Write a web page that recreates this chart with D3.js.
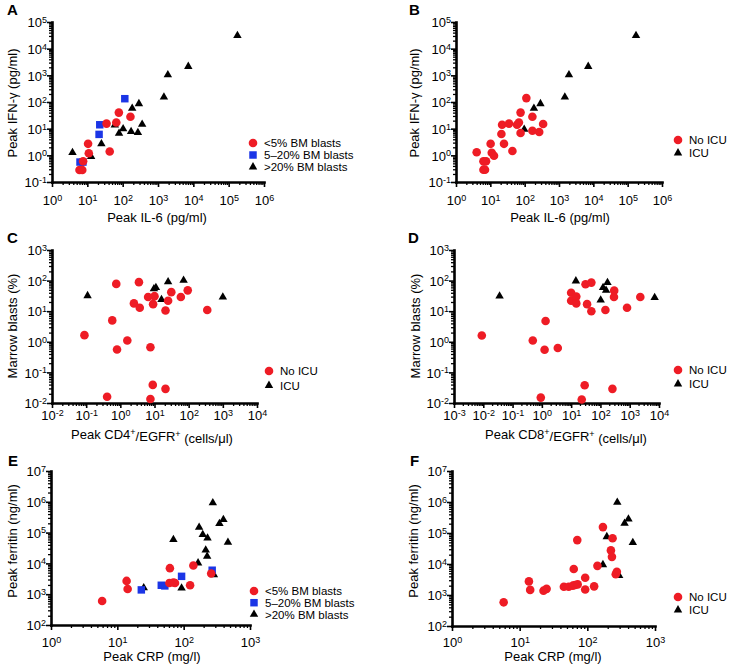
<!DOCTYPE html>
<html><head><meta charset="utf-8">
<script src="https://cdn.jsdelivr.net/npm/d3@7"></script>
<style>body{margin:0;background:#fff} svg{display:block;font-family:"Liberation Sans",Arial,sans-serif}</style>
</head><body><svg id="c" width="730" height="670"></svg>
<script>
// ---------- DATA ----------
// Panel A: Peak IL-6 (x) vs Peak IFN-γ (y), by BM blasts group
const aLowIL6  = [6.0, 7.2, 7.6, 10.5, 11, 35, 43, 66, 78, 166];
const aLowIFNG = [0.28, 0.28, 0.6, 2.7, 1.2, 15.5, 1.4, 17, 40, 28];
const aMidIL6  = [6.2, 7.5, 21.5, 22.5, 115];
const aMidIFNG = [0.56, 0.56, 6.1, 14, 133];
const aHighIL6  = [3.8, 12.8, 25, 60, 79, 103, 173, 186, 270, 288, 356, 1470, 1900, 7200, 177000];
const aHighIFNG = [1.26, 0.9, 2.7, 13.8, 6.7, 9.8, 7.8, 58, 7.1, 86, 14.5, 152, 1050, 2150, 31000];
// Panel B: same axes, by ICU
const bNoIL6  = [4.0, 6.3, 7.5, 6.3, 7.0, 10.2, 11, 12.8, 22, 21, 25, 35, 44, 60, 68, 76, 76, 112, 168, 168, 265, 345];
const bNoIFNG = [1.3, 0.6, 0.6, 0.29, 0.29, 2.7, 1.25, 0.97, 14, 6.3, 2.7, 15.5, 1.45, 14, 17, 40, 6.9, 140, 28, 8.3, 7.5, 15];
const bIcuIL6  = [97, 186, 288, 1480, 1950, 7100, 175000];
const bIcuIFNG = [9.5, 58, 86, 152, 1040, 2150, 31000];
// Panel C: Peak CD4+/EGFR+ (x) vs Marrow blasts % (y)
const cNoCD4   = [0.089, 0.76, 0.58, 0.8, 0.41, 1.6, 2.5, 3.5, 3.7, 6.5, 7.6, 7.6, 8.9, 9.1, 10, 21, 21, 25, 31, 59, 94, 350];
const cNoBlast = [1.65, 78, 5, 0.56, 0.016, 1.1, 18, 89, 13, 29, 0.66, 0.0135, 0.039, 17, 31, 10.5, 0.029, 22, 42, 29, 48, 11];
const cIcuCD4   = [0.11, 9.6, 11, 16, 25, 71, 1000];
const cIcuBlast = [32, 54, 59, 24, 91, 102, 29];
// Panel D: Peak CD8+/EGFR+ (x) vs Marrow blasts % (y)
const dNoCD8   = [0.0089, 0.49, 1.24, 1.34, 3.5, 0.92, 10, 10, 15, 15, 31, 49, 35, 49, 148, 295, 290, 810, 2300, 29, 23, 257];
const dNoBlast = [1.6, 1.1, 0.55, 4.8, 0.63, 0.015, 40, 22, 30, 18, 76, 86, 17, 10, 11, 47, 29, 13, 29, 0.038, 0.013, 0.029];
const dIcuCD8   = [0.036, 14.5, 102, 123, 156, 174, 7100];
const dIcuBlast = [31, 97, 23, 59, 48, 86, 28];
// Panel E: Peak CRP (x) vs Peak ferritin (y), by BM blasts group
const eLowCRP = [5.9, 13.8, 14.3, 62, 61, 70, 74, 125, 140, 260];
const eLowFer = [600, 2700, 1480, 7000, 2300, 2400, 2300, 1950, 8500, 4700];
const eMidCRP = [23, 46, 52, 93, 269];
const eMidFer = [1380, 1950, 1860, 3800, 6000];
const eHighCRP = [25, 70, 93, 165, 171, 194, 215, 229, 226, 275, 285, 346, 397, 465];
const eHighFer = [1600, 59000, 1580, 10300, 149000, 86000, 27000, 66000, 17000, 930000, 4300, 195000, 265000, 48000];
// Panel F: Peak CRP (x) vs Peak ferritin (y), by ICU
const fNoCRP = [5.8, 13.7, 14.3, 22.5, 25, 45, 53, 61, 63, 66, 71, 72, 93, 93, 126, 141, 170, 223, 231, 236, 263, 273];
const fNoFer = [580, 2750, 1460, 1380, 1580, 1850, 1850, 2000, 6900, 2100, 59000, 2200, 3600, 1500, 1900, 8700, 155000, 27500, 17000, 68000, 4700, 5600];
const fIcuCRP = [170, 194, 277, 295, 355, 405, 470];
const fIcuFer = [9500, 76000, 980000, 4200, 205000, 280000, 49000];

// Legend labels
const blastLabels = ["<5% BM blasts", "5\u201320% BM blasts", ">20% BM blasts"];
const icuLabels = ["No ICU", "ICU"];

// ---------- STYLE ----------
const RED = "#ee1c25", BLUE = "#1b35e6", BLACK = "#000";
const MARK = {
  circle:   {type: d3.symbolCircle,   size: 58},
  square:   {type: d3.symbolSquare,   size: 56},
  triangle: {type: d3.symbolTriangle, size: 31}
};

const svg = d3.select("#c");

function zip(xs, ys){ return xs.map((v,i)=>[v, ys[i]]); }
function majorTicks(dom){
  const lo = Math.round(Math.log10(dom[0])), hi = Math.round(Math.log10(dom[1]));
  return d3.range(lo, hi+1).map(e => Math.pow(10, e));
}
function minorTicks(dom){
  const lo = Math.round(Math.log10(dom[0])), hi = Math.round(Math.log10(dom[1]));
  const out = [];
  for (let e = lo; e < hi; e++) for (let k = 2; k <= 9; k++) out.push(k*Math.pow(10, e));
  return out;
}
function expLabel(sel){
  sel.each(function(d){
    const t = d3.select(this);
    const e = Math.round(Math.log10(d));
    t.text(null);
    t.append("tspan").text("10");
    t.append("tspan").attr("dy", "-0.48em").attr("font-size", "9px").text(e < 0 ? "-" + (-e) : String(e));
  });
}

function drawPanel(cfg){
  const x = d3.scaleLog().domain(cfg.xd).range([cfg.x0, cfg.x1]);
  const y = d3.scaleLog().domain(cfg.yd).range([cfg.y0, cfg.y1]);
  const g = svg.append("g");

  // minor ticks
  g.append("g").attr("transform", `translate(0,${cfg.y0})`)
    .call(d3.axisBottom(x).tickValues(minorTicks(cfg.xd)).tickSize(3).tickSizeOuter(0).tickFormat(""))
    .call(s => { s.select(".domain").remove(); s.selectAll("line").attr("stroke-width", 1.3); });
  g.append("g").attr("transform", `translate(${cfg.x0},0)`)
    .call(d3.axisLeft(y).tickValues(minorTicks(cfg.yd)).tickSize(3).tickSizeOuter(0).tickFormat(""))
    .call(s => { s.select(".domain").remove(); s.selectAll("line").attr("stroke-width", 1.3); });

  // major x
  const gx = g.append("g").attr("transform", `translate(0,${cfg.y0})`)
    .call(d3.axisBottom(x).tickValues(majorTicks(cfg.xd)).tickSize(5).tickSizeOuter(0));
  gx.attr("font-family", null).attr("font-size", 13);
  gx.select(".domain").attr("stroke-width", 2.6).attr("stroke-linecap", "square");
  gx.selectAll(".tick line").attr("stroke-width", 1.6);
  gx.selectAll(".tick text").attr("y", cfg.xlab).attr("dy", 0).attr("fill", "#000").call(expLabel);

  // major y
  const gy = g.append("g").attr("transform", `translate(${cfg.x0},0)`)
    .call(d3.axisLeft(y).tickValues(majorTicks(cfg.yd)).tickSize(5).tickSizeOuter(0));
  gy.attr("font-family", null).attr("font-size", 13);
  gy.select(".domain").attr("stroke-width", 2.6).attr("stroke-linecap", "square");
  gy.selectAll(".tick line").attr("stroke-width", 1.6);
  gy.selectAll(".tick text").attr("x", -5).attr("dy", "0.36em").attr("fill", "#000").call(expLabel);

  // points
  cfg.series.forEach(s => {
    g.append("g").selectAll("path").data(zip(s.xs, s.ys)).join("path")
      .attr("transform", d => `translate(${x(d[0])},${y(d[1])})`)
      .attr("d", d3.symbol().type(MARK[s.shape].type).size(MARK[s.shape].size))
      .attr("fill", s.color);
  });

  // panel letter
  svg.append("text").attr("x", cfg.lx).attr("y", cfg.ly).attr("font-size", 15).attr("font-weight", "bold").text(cfg.letter);

  // axis titles
  const yt = svg.append("text").attr("transform", `translate(${cfg.ytx},${cfg.yty}) rotate(-90)`)
    .attr("text-anchor", "middle").attr("font-size", 13);
  cfg.ytitle.forEach(p => { const ts = yt.append("tspan").text(p[0]); if (p[1]) ts.attr("font-size", 9).attr("dy", "-0.5em"); else if (p[2]) ts.attr("dy", p[2]); });
  const xt = svg.append("text").attr("x", cfg.xtx).attr("y", cfg.xty)
    .attr("text-anchor", "middle").attr("font-size", 13);
  cfg.xtitle.forEach(p => { const ts = xt.append("tspan").text(p[0]); if (p[1]) ts.attr("font-size", 9).attr("dy", "-0.5em"); else if (p[2]) ts.attr("dy", p[2]); });

  // legend
  const legendOrder = cfg.legendOrder || cfg.series;
  legendOrder.forEach((s, i) => {
    const ly = cfg.legY + i * cfg.legDy;
    svg.append("path").attr("transform", `translate(${cfg.legX},${ly})`)
      .attr("d", d3.symbol().type(MARK[s.shape].type).size(MARK[s.shape].size))
      .attr("fill", s.color);
    svg.append("text").attr("x", cfg.legX + 11).attr("y", ly).attr("dy", "0.36em")
      .attr("font-size", 11.5).text(s.label);
  });
}

const sBlastA = [
  {xs: aHighIL6, ys: aHighIFNG, shape: "triangle", color: BLACK, label: blastLabels[2]},
  {xs: aMidIL6, ys: aMidIFNG, shape: "square", color: BLUE, label: blastLabels[1]},
  {xs: aLowIL6, ys: aLowIFNG, shape: "circle", color: RED, label: blastLabels[0]}
];
const sBlastE = [
  {xs: eHighCRP, ys: eHighFer, shape: "triangle", color: BLACK, label: blastLabels[2]},
  {xs: eMidCRP, ys: eMidFer, shape: "square", color: BLUE, label: blastLabels[1]},
  {xs: eLowCRP, ys: eLowFer, shape: "circle", color: RED, label: blastLabels[0]}
];
const il6Title = [["Peak IL-6 (pg/ml)"]];
const ifnTitle = [["Peak IFN-\u03b3 (pg/ml)"]];
const blastTitle = [["Marrow blasts (%)"]];
const crpTitle = [["Peak CRP (mg/l)"]];
const ferTitle = [["Peak ferritin (ng/ml)"]];

drawPanel({letter: "A", lx: 7, ly: 15, xd: [1, 1e6], yd: [0.1, 1e5], x0: 52, x1: 264, y0: 182, y1: 22, xlab: 23,
  series: sBlastA, legendOrder: sBlastA.slice().reverse(), legX: 253, legY: 143, legDy: 12,
  xtitle: il6Title, xtx: 157, xty: 222, ytitle: ifnTitle, ytx: 17, yty: 103});

drawPanel({letter: "B", lx: 409, ly: 15, xd: [1, 1e6], yd: [0.1, 1e5], x0: 456, x1: 662, y0: 182, y1: 22, xlab: 23,
  series: [
    {xs: bIcuIL6, ys: bIcuIFNG, shape: "triangle", color: BLACK, label: icuLabels[1]},
    {xs: bNoIL6, ys: bNoIFNG, shape: "circle", color: RED, label: icuLabels[0]}
  ],
  legendOrder: [{shape: "circle", color: RED, label: icuLabels[0]}, {shape: "triangle", color: BLACK, label: icuLabels[1]}],
  legX: 678, legY: 140, legDy: 13,
  xtitle: il6Title, xtx: 560, xty: 222, ytitle: ifnTitle, ytx: 419, yty: 103});

drawPanel({letter: "C", lx: 7, ly: 243, xd: [1e-2, 1e4], yd: [1e-2, 1e3], x0: 52, x1: 257, y0: 403, y1: 250, xlab: 17,
  series: [
    {xs: cIcuCD4, ys: cIcuBlast, shape: "triangle", color: BLACK, label: icuLabels[1]},
    {xs: cNoCD4, ys: cNoBlast, shape: "circle", color: RED, label: icuLabels[0]}
  ],
  legendOrder: [{shape: "circle", color: RED, label: icuLabels[0]}, {shape: "triangle", color: BLACK, label: icuLabels[1]}],
  legX: 269, legY: 371, legDy: 14.5,
  xtitle: [["Peak CD4"], ["+", true], ["/EGFR", false, "0.5em"], ["+", true], [" (cells/\u03bcl)", false, "0.5em"]],
  xtx: 152, xty: 439, ytitle: blastTitle, ytx: 17, yty: 326});

drawPanel({letter: "D", lx: 408, ly: 243, xd: [1e-3, 1e4], yd: [1e-2, 1e3], x0: 454, x1: 659, y0: 403, y1: 250, xlab: 17,
  series: [
    {xs: dIcuCD8, ys: dIcuBlast, shape: "triangle", color: BLACK, label: icuLabels[1]},
    {xs: dNoCD8, ys: dNoBlast, shape: "circle", color: RED, label: icuLabels[0]}
  ],
  legendOrder: [{shape: "circle", color: RED, label: icuLabels[0]}, {shape: "triangle", color: BLACK, label: icuLabels[1]}],
  legX: 678, legY: 370, legDy: 14,
  xtitle: [["Peak CD8"], ["+", true], ["/EGFR", false, "0.5em"], ["+", true], [" (cells/\u03bcl)", false, "0.5em"]],
  xtx: 566, xty: 439, ytitle: blastTitle, ytx: 420, yty: 326});

drawPanel({letter: "E", lx: 8, ly: 466, xd: [1, 1e3], yd: [1e2, 1e7], x0: 51, x1: 250, y0: 625, y1: 471, xlab: 22,
  series: sBlastE, legendOrder: sBlastE.slice().reverse(), legX: 254, legY: 591, legDy: 11.7,
  xtitle: crpTitle, xtx: 152, xty: 661, ytitle: ferTitle, ytx: 17, yty: 541});

drawPanel({letter: "F", lx: 410, ly: 466, xd: [1, 1e3], yd: [1e2, 1e7], x0: 452, x1: 655, y0: 626, y1: 471, xlab: 21,
  series: [
    {xs: fIcuCRP, ys: fIcuFer, shape: "triangle", color: BLACK, label: icuLabels[1]},
    {xs: fNoCRP, ys: fNoFer, shape: "circle", color: RED, label: icuLabels[0]}
  ],
  legendOrder: [{shape: "circle", color: RED, label: icuLabels[0]}, {shape: "triangle", color: BLACK, label: icuLabels[1]}],
  legX: 678, legY: 597, legDy: 13,
  xtitle: crpTitle, xtx: 553, xty: 661, ytitle: ferTitle, ytx: 418, yty: 541});
</script></body></html>
